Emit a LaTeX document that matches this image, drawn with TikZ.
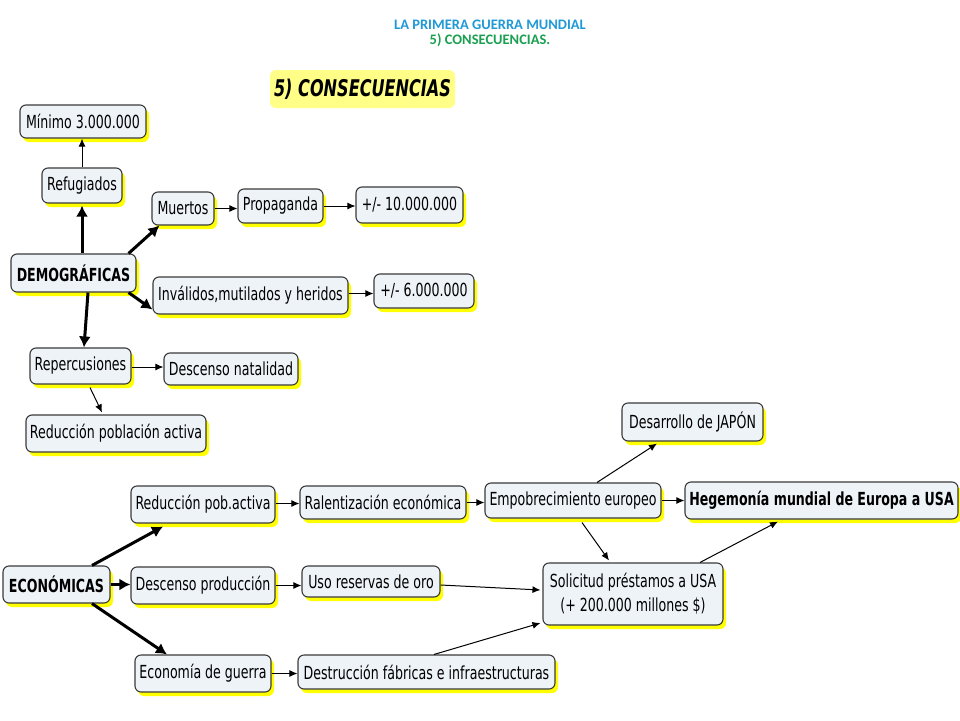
\documentclass[tikz,border=0pt]{standalone}
\usepackage{fontspec}
\setmainfont{DejaVu Sans}[FakeStretch=0.70]
\newfontfamily\titlefont{Carlito}
\usetikzlibrary{arrows.meta,shadows}
\definecolor{boxfill}{HTML}{EEF3F8}
\definecolor{boxline}{HTML}{3A3A3A}
\definecolor{shadowyellow}{HTML}{FFFF00}
\definecolor{titleblue}{HTML}{1F9AD6}
\definecolor{titlegreen}{HTML}{1AA050}
\definecolor{headyellow}{HTML}{FFFF88}
\tikzset{
  cbox/.style={draw=boxline, line width=1.1pt, fill=boxfill, rounded corners=6pt,
    inner sep=0pt, align=center, text=black,
    font=\fontsize{18}{22}\selectfont,
    drop shadow={shadow xshift=3pt, shadow yshift=-4pt, fill=shadowyellow, opacity=1}},
  thin arrow/.style={draw=black, line width=1pt, -{Latex[length=8pt,width=7pt]}},
  thick arrow/.style={draw=black, line width=3pt, -{Latex[length=11pt,width=12pt]}},
}
\begin{document}
\begin{tikzpicture}[x=1pt,y=-1pt]
\useasboundingbox (0,0) rectangle (960,720);
\fill[white] (0,0) rectangle (960,720);
% header
\node[font=\titlefont\bfseries\fontsize{14.5}{16}\selectfont, text=titleblue, inner sep=0pt] (t1) at (490,25) {LA PRIMERA GUERRA MUNDIAL};
\node[font=\titlefont\bfseries\fontsize{14.5}{16}\selectfont, text=titlegreen, inner sep=0pt] (t2) at (490,40.5) {5) CONSECUENCIAS.};
\node[fill=headyellow, rounded corners=6pt, minimum width=185pt, minimum height=38pt, inner sep=0pt,
  font=\bfseries\itshape\fontsize{23}{27}\selectfont] (cons) at (362.5,89) {5) CONSECUENCIAS};
% nodes
\node[cbox, minimum width=126pt, minimum height=33pt] (minimo) at (83,121.5) {Mínimo 3.000.000};
\node[cbox, minimum width=80pt, minimum height=35pt] (refug) at (82,185.5) {Refugiados};
\node[cbox, minimum width=62pt, minimum height=33pt] (muertos) at (183,208.5) {Muertos};
\node[cbox, minimum width=85pt, minimum height=34pt] (propag) at (280.5,206) {Propaganda};
\node[cbox, minimum width=107pt, minimum height=36pt] (diezm) at (409.5,205) {+/- 10.000.000};
\node[cbox, minimum width=125pt, minimum height=38pt, font=\bfseries\fontsize{18}{22}\selectfont] (demog) at (73.5,273) {DEMOGRÁFICAS};
\node[cbox, minimum width=195pt, minimum height=37pt] (inval) at (250.5,295.5) {Inválidos,mutilados y heridos};
\node[cbox, minimum width=100pt, minimum height=34pt] (seism) at (424,291) {+/- 6.000.000};
\node[cbox, minimum width=101pt, minimum height=36pt] (reperc) at (80.5,366) {Repercusiones};
\node[cbox, minimum width=134pt, minimum height=32pt] (natal) at (231,369) {Descenso natalidad};
\node[cbox, minimum width=180pt, minimum height=37pt] (redpob) at (116,433.5) {Reducción población activa};
\node[cbox, minimum width=141pt, minimum height=38pt] (japon) at (692.5,422) {Desarrollo de JAPÓN};
\node[cbox, minimum width=144pt, minimum height=37pt] (redpobb) at (203,504.5) {Reducción pob.activa};
\node[cbox, minimum width=166pt, minimum height=33pt] (ralent) at (383,502.5) {Ralentización económica};
\node[cbox, minimum width=176pt, minimum height=35pt] (empob) at (573,500.5) {Empobrecimiento europeo};
\node[cbox, minimum width=273pt, minimum height=37pt, font=\bfseries\fontsize{18}{22}\selectfont] (hegem) at (821.5,500.5) {Hegemonía mundial de Europa a USA};
\node[cbox, minimum width=107pt, minimum height=37pt, font=\bfseries\fontsize{18}{22}\selectfont] (econ) at (56.5,584.5) {ECONÓMICAS};
\node[cbox, minimum width=144pt, minimum height=37pt] (descprod) at (203,585.5) {Descenso producción};
\node[cbox, minimum width=138pt, minimum height=31pt] (oro) at (371,581.5) {Uso reservas de oro};
\node[cbox, minimum width=180pt, minimum height=62pt, font=\fontsize{18}{24}\selectfont] (solic) at (633,594) {Solicitud préstamos a USA\\(+ 200.000 millones \$)};
\node[cbox, minimum width=136pt, minimum height=37pt] (econg) at (203,673.5) {Economía de guerra};
\node[cbox, minimum width=257pt, minimum height=34pt] (destr) at (426.5,672) {Destrucción fábricas e infraestructuras};
% connectors demograficas
\draw[thin arrow] (refug.north) -- (refug.north |- minimo.south);
\draw[thick arrow] (refug.south |- demog.north) -- ([yshift=-2pt]refug.south);
\draw[thick arrow] ([xshift=-8pt]demog.north east) -- ([xshift=8pt]muertos.south west);
\draw[thick arrow] ([xshift=-8pt]demog.south east) -- ([yshift=-14pt]inval.west);
\draw[thick arrow] ([xshift=14.5pt]demog.south) -- ([xshift=3.5pt]reperc.north);
\draw[thin arrow] (muertos.east) -- (muertos.east -| propag.west);
\draw[thin arrow] (propag.east) -- (propag.east -| diezm.west);
\draw[thin arrow] ([yshift=2pt]inval.east) -- ([yshift=2pt]inval.east -| seism.west);
\draw[thin arrow] ([yshift=-1pt]reperc.east) -- ([yshift=-1pt]reperc.east -| natal.west);
\draw[thin arrow] ([xshift=9.5pt,yshift=-3pt]reperc.south) -- ([xshift=-14pt,yshift=2pt]redpob.north);
% connectors economicas
\draw[thick arrow] ([xshift=35.5pt]econ.north) -- ([xshift=-40pt,yshift=-3pt]redpobb.south);
\draw[thick arrow] (econ.east) -- (econ.east -| descprod.west);
\draw[thick arrow] ([xshift=35.5pt]econ.south) -- ([xshift=-36pt]econg.north);
\draw[thin arrow] ([yshift=1pt]redpobb.east) -- ([yshift=1pt]redpobb.east -| ralent.west);
\draw[thin arrow] (ralent.east) -- (ralent.east -| empob.west);
\draw[thin arrow] (empob.east) -- (empob.east -| hegem.west);
\draw[thin arrow] ([xshift=24pt]empob.north) -- ([xshift=-35.5pt,yshift=-2pt]japon.south);
\draw[thin arrow] ([xshift=9pt,yshift=-4pt]empob.south) -- ([xshift=-24pt,yshift=2pt]solic.north);
\draw[thin arrow] ([yshift=-3.5pt]oro.east) -- ([xshift=-2pt,yshift=4pt]solic.west);
\draw[thin arrow] ([xshift=7.5pt]destr.north) -- ([xshift=-2pt,yshift=-29pt]solic.west);
\draw[thin arrow] ([xshift=67pt]solic.north) -- ([xshift=-43.5pt,yshift=-2pt]hegem.south);
\draw[thin arrow] (descprod.east) -- (descprod.east -| oro.west);
\draw[thin arrow] (econg.east) -- (econg.east -| destr.west);
\end{tikzpicture}
\end{document}
